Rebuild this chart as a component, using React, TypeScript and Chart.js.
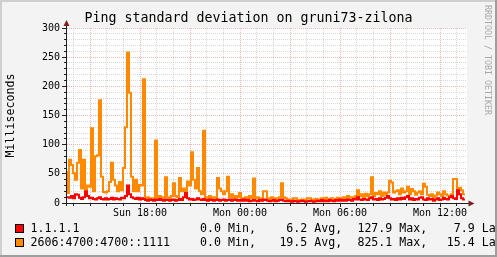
import { useEffect, useRef } from "react";
import { Chart, registerables } from "chart.js";

Chart.register(...registerables);

const TITLE = "Ping standard deviation on gruni73-zilona";
const Y_TITLE = "Milliseconds";
const WATERMARK = "RRDTOOL / TOBI OETIKER";

// time axis in hours since Sun 00:00
const START_HOUR = 13.62;
const STEP_HOURS = 0.12;
const SPAN_HOURS = 24;
const X_TICK_HOURS = [18, 24, 30, 36];
const X_TICK_LABELS = ["Sun 18:00", "Mon 00:00", "Mon 06:00", "Mon 12:00"];

const Y_MAX = 300;
const Y_STEP = 10;
const Y_LABEL_STEP = 50;

const SERIES_NAMES = ["1.1.1.1", "2606:4700:4700::1111"];
const SERIES_COLORS = ["#FF0000", "#FF8A00"];
const SERIES_MIN = ["0.0", "0.0"];
const SERIES_AVG = ["6.2", "19.5"];
const SERIES_MAX = ["127.9", "825.1"];
const SERIES_LAST = ["7.9", "15.4"];

const RED = [
  8, 10, 9, 12, 8, 15, 14, 9, 7, 10,
  20, 12, 8, 9, 7, 6, 8, 10, 7, 6,
  8, 6, 7, 9, 6, 8, 7, 6, 9, 8,
  12, 30, 15, 10, 8, 7, 9, 6, 8, 7,
  5, 4, 6, 5, 4, 6, 5, 7, 5, 4,
  6, 5, 4, 5, 6, 4, 5, 7, 5, 10,
  17, 8, 6, 7, 5, 6, 8, 6, 5, 7,
  5, 4, 6, 5, 4, 5, 6, 4, 5, 6,
  4, 5, 6, 4, 5, 6, 4, 5, 4, 6,
  4, 5, 3, 4, 5, 4, 3, 5, 4, 6,
  5, 4, 3, 4, 5, 3, 4, 5, 6, 4,
  3, 4, 3, 2, 4, 3, 2, 3, 4, 3,
  2, 3, 4, 3, 2, 3, 4, 3, 5, 3,
  4, 3, 5, 4, 3, 5, 4, 6, 4, 5,
  4, 6, 5, 4, 7, 6, 10, 6, 5, 7,
  6, 5, 8, 10, 6, 7, 5, 8, 6, 7,
  9, 12, 8, 6, 7, 5, 8, 6, 9, 7,
  10, 12, 6, 8, 5, 7, 6, 9, 10, 6,
  5, 8, 6, 7, 4, 6, 8, 5, 6, 9,
  7, 6, 10, 12, 8, 7, 22, 15, 8, 6,
];

const ORANGE = [
  55, 17, 74, 65, 51, 40, 69, 91, 25, 74,
  23, 30, 28, 128, 20, 80, 82, 176, 45, 19,
  18, 20, 36, 69, 40, 30, 20, 36, 22, 60,
  130, 258, 189, 45, 20, 40, 20, 31, 30, 212,
  8, 10, 5, 8, 6, 107, 10, 12, 8, 10,
  44, 10, 8, 12, 34, 12, 10, 43, 20, 25,
  18, 37, 30, 87, 40, 25, 60, 20, 15, 124,
  10, 8, 12, 8, 10, 8, 43, 25, 20, 15,
  20, 45, 10, 15, 8, 12, 10, 17, 8, 6,
  10, 8, 12, 8, 42, 8, 10, 6, 8, 20,
  20, 8, 6, 10, 5, 8, 6, 10, 34, 10,
  8, 6, 6, 5, 8, 8, 5, 4, 6, 5,
  6, 8, 8, 5, 6, 7, 5, 6, 8, 6,
  9, 7, 6, 8, 7, 6, 9, 8, 7, 10,
  8, 12, 9, 10, 8, 12, 22, 12, 15, 10,
  16, 12, 15, 44, 12, 17, 15, 20, 12, 18,
  14, 18, 38, 35, 18, 20, 22, 15, 25, 18,
  20, 28, 15, 24, 20, 14, 18, 20, 15, 33,
  28, 14, 12, 15, 10, 13, 18, 15, 12, 20,
  15, 13, 12, 15, 41, 41, 15, 26, 22, 15,
];

const MONO = '"DejaVu Sans Mono", "Liberation Mono", monospace';
const BG = "#F3F3F3";
const AXIS_COLOR = "#1F1F1F";
const ARROW_COLOR = "#801F1F";
const GRID_MINOR = "rgba(143,143,143,0.35)";
const GRID_MAJOR = "rgba(222,79,79,0.42)";

const toPoints = (arr: number[]) =>
  arr.map((v, i) => ({ x: START_HOUR + i * STEP_HOURS, y: v }));

const rrdPlugin = {
  id: "rrdDecor",
  beforeDraw(chart: any) {
    const { ctx, width, height, chartArea: a } = chart;
    ctx.save();
    ctx.fillStyle = BG;
    ctx.fillRect(0, 0, width, height);
    ctx.fillStyle = "#CFCFCF";
    ctx.fillRect(0, 0, width, 2);
    ctx.fillRect(0, 0, 2, height);
    ctx.fillStyle = "#9E9E9E";
    ctx.fillRect(0, height - 2, width, 2);
    ctx.fillRect(width - 2, 0, 2, height);
    ctx.fillStyle = "#FFFFFF";
    ctx.fillRect(a.left, a.top, a.right - a.left, a.bottom - a.top);
    ctx.restore();
  },
  afterDraw(chart: any) {
    const { ctx, width, chartArea: a, scales } = chart;
    const xs = scales.x;
    const ys = scales.y;
    ctx.save();

    // tick marks
    ctx.strokeStyle = AXIS_COLOR;
    ctx.lineWidth = 1;
    ctx.beginPath();
    for (let v = 0; v <= Y_MAX; v += Y_STEP) {
      const y = Math.round(ys.getPixelForValue(v) - 0.5) + 0.5;
      const len = v % Y_LABEL_STEP === 0 ? 4 : 2;
      ctx.moveTo(a.left - 1 - len, y);
      ctx.lineTo(a.left - 1, y);
    }
    for (let h = Math.ceil(START_HOUR); h <= START_HOUR + SPAN_HOURS; h++) {
      const x = Math.round(xs.getPixelForValue(h) - 0.5) + 0.5;
      const len = h % 6 === 0 ? 3 : 2;
      ctx.moveTo(x, a.bottom + 1);
      ctx.lineTo(x, a.bottom + 1 + len);
    }
    ctx.stroke();

    // axes
    ctx.beginPath();
    ctx.moveTo(a.left - 0.5, a.bottom + 3);
    ctx.lineTo(a.left - 0.5, a.top - 2);
    ctx.moveTo(a.left - 4, a.bottom + 0.5);
    ctx.lineTo(a.right + 2, a.bottom + 0.5);
    ctx.stroke();

    // arrows
    ctx.fillStyle = ARROW_COLOR;
    ctx.beginPath();
    ctx.moveTo(a.left - 0.5, a.top - 8);
    ctx.lineTo(a.left - 3.5, a.top - 2);
    ctx.lineTo(a.left + 2.5, a.top - 2);
    ctx.closePath();
    ctx.fill();
    ctx.beginPath();
    ctx.moveTo(a.right + 7.5, a.bottom + 0.5);
    ctx.lineTo(a.right + 1.5, a.bottom - 2.5);
    ctx.lineTo(a.right + 1.5, a.bottom + 3.5);
    ctx.closePath();
    ctx.fill();

    // title
    ctx.fillStyle = "#000";
    ctx.font = `13.3px ${MONO}`;
    ctx.textAlign = "center";
    ctx.textBaseline = "middle";
    ctx.fillText(TITLE, width / 2, 19);

    // y title
    ctx.save();
    ctx.font = `11.6px ${MONO}`;
    ctx.translate(10.5, (a.top + a.bottom) / 2);
    ctx.rotate(-Math.PI / 2);
    ctx.fillText(Y_TITLE, 0, 0);
    ctx.restore();

    // watermark
    ctx.save();
    ctx.fillStyle = "#A8A8A8";
    ctx.font = `8.3px ${MONO}`;
    ctx.translate(487.5, 60);
    ctx.rotate(Math.PI / 2);
    ctx.fillText(WATERMARK, 0, 0);
    ctx.restore();

    // legend
    ctx.font = `11.6px ${MONO}`;
    ctx.textBaseline = "middle";
    const rowY = [229, 243];
    const boxY = [224, 238];
    SERIES_NAMES.forEach((name, k) => {
      ctx.fillStyle = SERIES_COLORS[k];
      ctx.fillRect(15, boxY[k], 9, 9);
      ctx.strokeStyle = "#000";
      ctx.lineWidth = 1;
      ctx.strokeRect(15.5, boxY[k] + 0.5, 8, 8);
      ctx.fillStyle = "#000";
      ctx.textAlign = "left";
      ctx.fillText(name, 30.5, rowY[k]);
      const cols: [string, string, number][] = [
        [SERIES_MIN[k], " Min,", 221],
        [SERIES_AVG[k], " Avg,", 307.3],
        [SERIES_MAX[k], " Max,", 392.3],
        [SERIES_LAST[k], " Last", 474.7],
      ];
      cols.forEach(([val, suffix, right]) => {
        ctx.textAlign = "right";
        ctx.fillText(val, right, rowY[k]);
        ctx.textAlign = "left";
        ctx.fillText(suffix, right, rowY[k]);
      });
    });

    ctx.restore();
  },
};

export default function App() {
  const ref = useRef<HTMLCanvasElement>(null);

  useEffect(() => {
    document.body.style.margin = "0";
    const canvas = ref.current;
    if (!canvas) return;
    const chart = new Chart(canvas, {
      type: "line",
      data: {
        datasets: [
          {
            label: SERIES_NAMES[0],
            data: toPoints(RED),
            borderColor: SERIES_COLORS[0],
            borderWidth: 2,
            pointRadius: 0,
            stepped: "after",
            fill: false,
            borderJoinStyle: "miter",
            borderCapStyle: "butt",
          },
          {
            label: SERIES_NAMES[1],
            data: toPoints(ORANGE),
            borderColor: SERIES_COLORS[1],
            borderWidth: 2,
            pointRadius: 0,
            stepped: "after",
            fill: false,
            borderJoinStyle: "miter",
            borderCapStyle: "butt",
          },
        ],
      },
      options: {
        animation: false,
        responsive: false,
        devicePixelRatio: 1,
        events: [],
        layout: { padding: { top: 28, right: 30, left: 0, bottom: 0 } },
        plugins: {
          legend: { display: false },
          title: { display: false },
          tooltip: { enabled: false },
        },
        scales: {
          x: {
            type: "linear",
            min: START_HOUR,
            max: START_HOUR + SPAN_HOURS,
            afterFit: (s: any) => {
              s.height = 54;
            },
            afterBuildTicks: (s: any) => {
              const t = [];
              for (let h = Math.ceil(START_HOUR); h <= START_HOUR + SPAN_HOURS; h++) t.push({ value: h });
              s.ticks = t;
            },
            border: { display: false, dash: [1, 1] },
            grid: {
              drawTicks: false,
              lineWidth: 1,
              color: (c: any) => (c.tick && c.tick.value % 3 === 0 ? GRID_MAJOR : GRID_MINOR),
            },
            ticks: {
              autoSkip: false,
              maxRotation: 0,
              minRotation: 0,
              padding: 4,
              color: "#000",
              font: { family: MONO, size: 10 },
              callback: (v: any) => {
                const idx = X_TICK_HOURS.indexOf(Number(v));
                return idx >= 0 ? X_TICK_LABELS[idx] : "";
              },
            },
          },
          y: {
            type: "linear",
            min: 0,
            max: Y_MAX,
            afterFit: (s: any) => {
              s.width = 67;
            },
            border: { display: false, dash: [1, 1] },
            grid: {
              drawTicks: false,
              lineWidth: 1,
              color: (c: any) => (c.tick && c.tick.value % Y_LABEL_STEP === 0 ? GRID_MAJOR : GRID_MINOR),
            },
            ticks: {
              stepSize: Y_STEP,
              autoSkip: false,
              padding: 7,
              color: "#000",
              font: { family: MONO, size: 10 },
              callback: (v: any) => (Number(v) % Y_LABEL_STEP === 0 ? String(v) : ""),
            },
          },
        },
      },
      plugins: [rrdPlugin],
    } as any);
    return () => chart.destroy();
  }, []);

  return (
    <canvas
      ref={ref}
      width={497}
      height={257}
      style={{ display: "block", width: 497, height: 257 }}
    />
  );
}
